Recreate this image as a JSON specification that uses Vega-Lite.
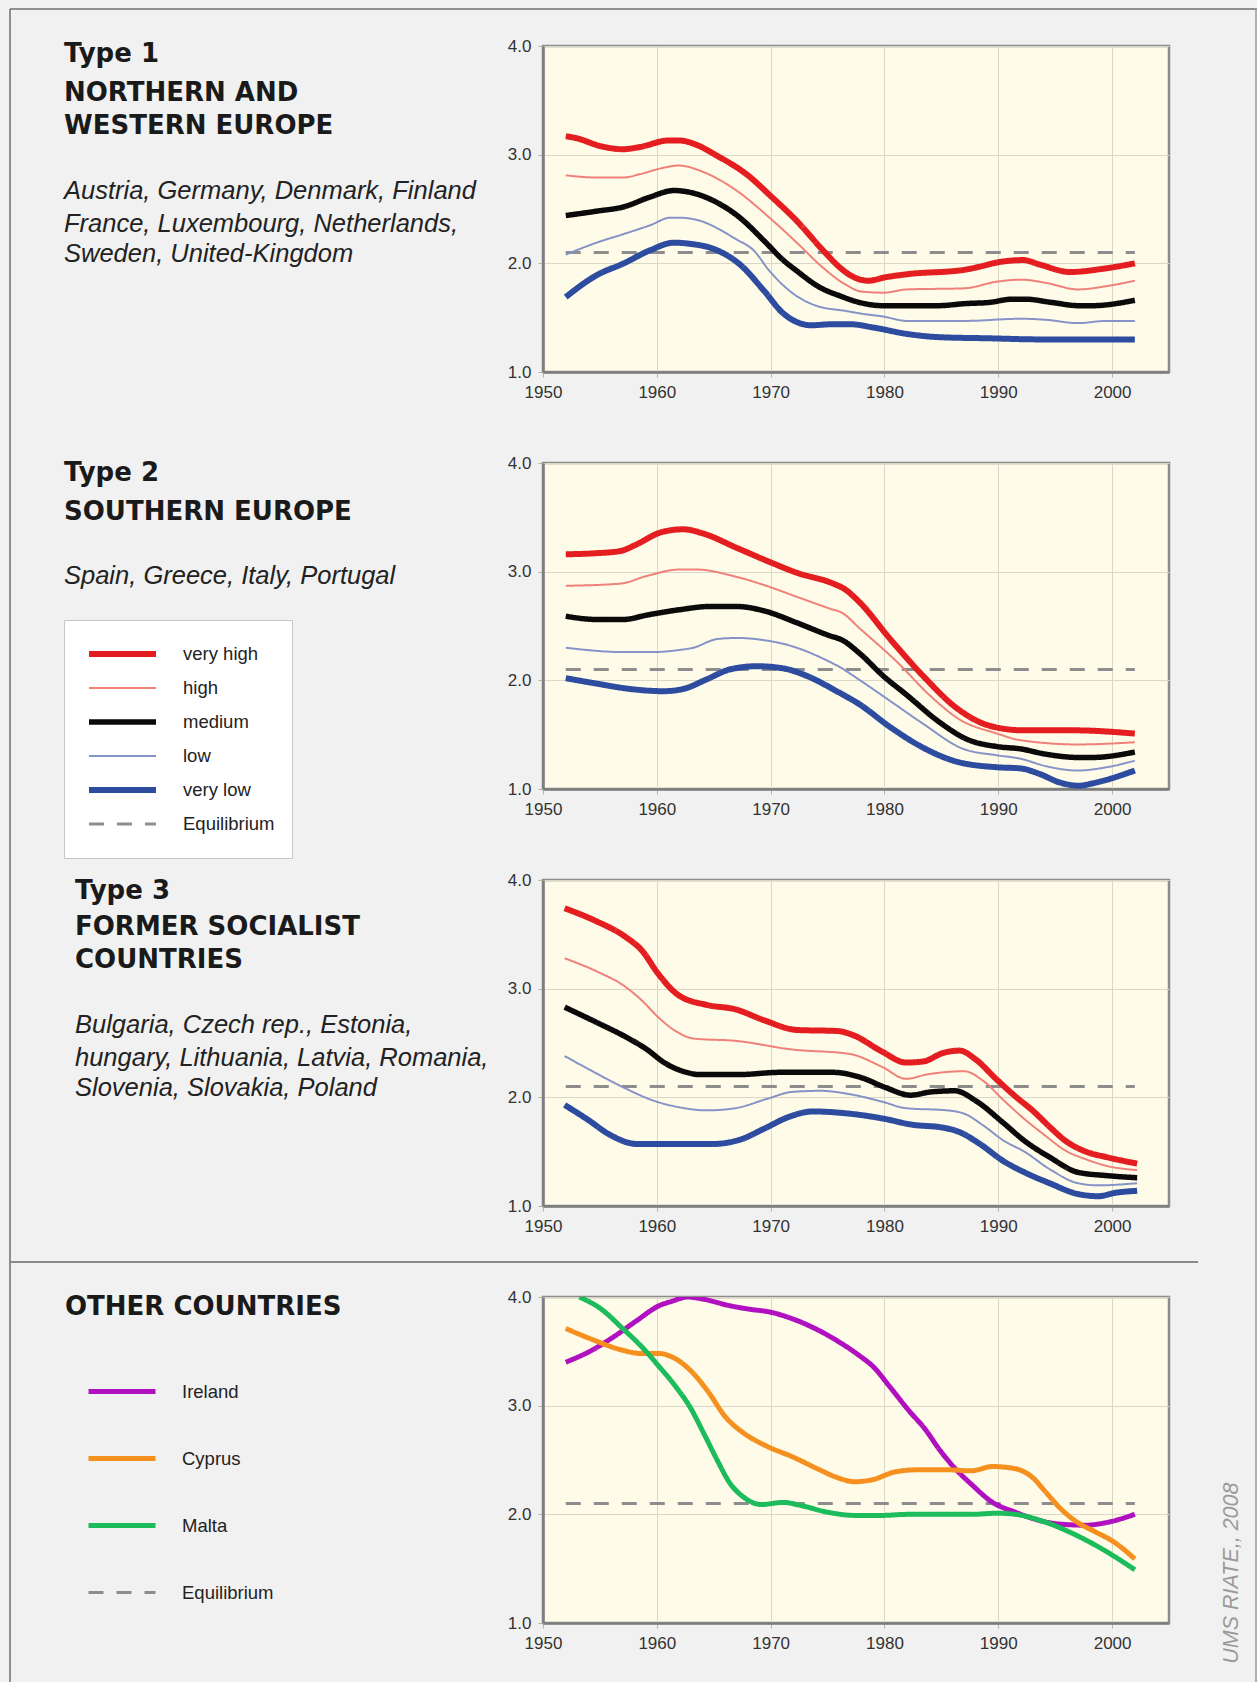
{
  "$schema": "https://vega.github.io/schema/vega-lite/v6.json",
  "background": "#f1f1f1",
  "padding": {"top": 8, "left": 0, "right": 0, "bottom": 0},
  "columns": 2,
  "bounds": "flush",
  "spacing": {"row": 91, "column": 43},
  "resolve": {
    "scale": {"color": "independent", "strokeWidth": "independent", "strokeDash": "independent"},
    "legend": {"color": "independent", "strokeWidth": "independent", "strokeDash": "independent"}
  },
  "datasets": {
    "labels": [
      {"panel": "Type 1", "kind": "title", "line": -0.19, "text": "Type 1"},
      {"panel": "Type 1", "kind": "title", "line": 1, "text": "NORTHERN AND"},
      {"panel": "Type 1", "kind": "title", "line": 2, "text": "WESTERN EUROPE"},
      {"panel": "Type 1", "kind": "countries", "line": 4, "text": "Austria, Germany, Denmark, Finland"},
      {"panel": "Type 1", "kind": "countries", "line": 5, "text": "France, Luxembourg, Netherlands,"},
      {"panel": "Type 1", "kind": "countries", "line": 5.93, "text": "Sweden, United-Kingdom"},
      {"panel": "Type 2", "kind": "title", "line": -0.15, "text": "Type 2"},
      {"panel": "Type 2", "kind": "title", "line": 1.04, "text": "SOUTHERN EUROPE"},
      {"panel": "Type 2", "kind": "countries", "line": 3.01, "text": "Spain, Greece, Italy, Portugal"},
      {"panel": "Type 3", "kind": "title", "line": -0.11, "text": "Type 3"},
      {"panel": "Type 3", "kind": "title", "line": 1, "text": "FORMER SOCIALIST"},
      {"panel": "Type 3", "kind": "title", "line": 2, "text": "COUNTRIES"},
      {"panel": "Type 3", "kind": "countries", "line": 4, "text": "Bulgaria, Czech rep., Estonia,"},
      {"panel": "Type 3", "kind": "countries", "line": 5, "text": "hungary, Lithuania, Latvia, Romania,"},
      {"panel": "Type 3", "kind": "countries", "line": 5.92, "text": "Slovenia, Slovakia, Poland"},
      {"panel": "Other", "kind": "title", "line": -0.14, "text": "OTHER COUNTRIES"}
    ],
    "fert": [
      {"panel":"Type 1","series":"Equilibrium","year":1952,"value":2.1},{"panel":"Type 1","series":"Equilibrium","year":2002,"value":2.1},
      {"panel":"Type 1","series":"very high","year":1952,"value":3.17},{"panel":"Type 1","series":"very high","year":1953,"value":3.15},{"panel":"Type 1","series":"very high","year":1955,"value":3.08},{"panel":"Type 1","series":"very high","year":1957,"value":3.05},{"panel":"Type 1","series":"very high","year":1958.5,"value":3.07},{"panel":"Type 1","series":"very high","year":1961,"value":3.13},{"panel":"Type 1","series":"very high","year":1962,"value":3.13},{"panel":"Type 1","series":"very high","year":1963.5,"value":3.09},{"panel":"Type 1","series":"very high","year":1965.3,"value":2.99},{"panel":"Type 1","series":"very high","year":1968,"value":2.81},{"panel":"Type 1","series":"very high","year":1970,"value":2.62},{"panel":"Type 1","series":"very high","year":1972.3,"value":2.39},{"panel":"Type 1","series":"very high","year":1974.6,"value":2.12},{"panel":"Type 1","series":"very high","year":1976.1,"value":1.96},{"panel":"Type 1","series":"very high","year":1977,"value":1.89},{"panel":"Type 1","series":"very high","year":1978.6,"value":1.84},{"panel":"Type 1","series":"very high","year":1980,"value":1.87},{"panel":"Type 1","series":"very high","year":1982,"value":1.9},{"panel":"Type 1","series":"very high","year":1987,"value":1.94},{"panel":"Type 1","series":"very high","year":1988.4,"value":1.97},{"panel":"Type 1","series":"very high","year":1990,"value":2.01},{"panel":"Type 1","series":"very high","year":1992.2,"value":2.03},{"panel":"Type 1","series":"very high","year":1993.6,"value":1.99},{"panel":"Type 1","series":"very high","year":1996.3,"value":1.92},{"panel":"Type 1","series":"very high","year":1999.2,"value":1.95},{"panel":"Type 1","series":"very high","year":2002,"value":2.0},
      {"panel":"Type 1","series":"high","year":1952,"value":2.81},{"panel":"Type 1","series":"high","year":1954.7,"value":2.79},{"panel":"Type 1","series":"high","year":1957.1,"value":2.79},{"panel":"Type 1","series":"high","year":1958.5,"value":2.82},{"panel":"Type 1","series":"high","year":1960.6,"value":2.88},{"panel":"Type 1","series":"high","year":1961.9,"value":2.9},{"panel":"Type 1","series":"high","year":1964.1,"value":2.84},{"panel":"Type 1","series":"high","year":1967,"value":2.67},{"panel":"Type 1","series":"high","year":1969.9,"value":2.42},{"panel":"Type 1","series":"high","year":1972.3,"value":2.19},{"panel":"Type 1","series":"high","year":1974.6,"value":1.96},{"panel":"Type 1","series":"high","year":1976.5,"value":1.81},{"panel":"Type 1","series":"high","year":1978,"value":1.74},{"panel":"Type 1","series":"high","year":1979.9,"value":1.73},{"panel":"Type 1","series":"high","year":1982,"value":1.76},{"panel":"Type 1","series":"high","year":1987,"value":1.77},{"panel":"Type 1","series":"high","year":1989.8,"value":1.83},{"panel":"Type 1","series":"high","year":1992,"value":1.85},{"panel":"Type 1","series":"high","year":1994.2,"value":1.82},{"panel":"Type 1","series":"high","year":1997,"value":1.76},{"panel":"Type 1","series":"high","year":1999.5,"value":1.79},{"panel":"Type 1","series":"high","year":2002,"value":1.84},
      {"panel":"Type 1","series":"medium","year":1952,"value":2.44},{"panel":"Type 1","series":"medium","year":1954.7,"value":2.48},{"panel":"Type 1","series":"medium","year":1957.1,"value":2.52},{"panel":"Type 1","series":"medium","year":1959.4,"value":2.61},{"panel":"Type 1","series":"medium","year":1961.5,"value":2.67},{"panel":"Type 1","series":"medium","year":1962.6,"value":2.66},{"panel":"Type 1","series":"medium","year":1964.7,"value":2.59},{"panel":"Type 1","series":"medium","year":1967.3,"value":2.42},{"panel":"Type 1","series":"medium","year":1969.4,"value":2.21},{"panel":"Type 1","series":"medium","year":1971.1,"value":2.03},{"panel":"Type 1","series":"medium","year":1972.3,"value":1.93},{"panel":"Type 1","series":"medium","year":1974.3,"value":1.78},{"panel":"Type 1","series":"medium","year":1976.1,"value":1.7},{"panel":"Type 1","series":"medium","year":1977.8,"value":1.64},{"panel":"Type 1","series":"medium","year":1979.9,"value":1.61},{"panel":"Type 1","series":"medium","year":1982,"value":1.61},{"panel":"Type 1","series":"medium","year":1984.6,"value":1.61},{"panel":"Type 1","series":"medium","year":1987.2,"value":1.63},{"panel":"Type 1","series":"medium","year":1989.2,"value":1.64},{"panel":"Type 1","series":"medium","year":1991.2,"value":1.67},{"panel":"Type 1","series":"medium","year":1992.4,"value":1.67},{"panel":"Type 1","series":"medium","year":1994.7,"value":1.64},{"panel":"Type 1","series":"medium","year":1997.1,"value":1.61},{"panel":"Type 1","series":"medium","year":1998.2,"value":1.61},{"panel":"Type 1","series":"medium","year":2002,"value":1.66},
      {"panel":"Type 1","series":"low","year":1952,"value":2.08},{"panel":"Type 1","series":"low","year":1954.7,"value":2.19},{"panel":"Type 1","series":"low","year":1957.1,"value":2.27},{"panel":"Type 1","series":"low","year":1959.4,"value":2.35},{"panel":"Type 1","series":"low","year":1961.2,"value":2.42},{"panel":"Type 1","series":"low","year":1962,"value":2.42},{"panel":"Type 1","series":"low","year":1963.5,"value":2.4},{"panel":"Type 1","series":"low","year":1967,"value":2.22},{"panel":"Type 1","series":"low","year":1968.5,"value":2.12},{"panel":"Type 1","series":"low","year":1969.9,"value":1.93},{"panel":"Type 1","series":"low","year":1972,"value":1.72},{"panel":"Type 1","series":"low","year":1974,"value":1.61},{"panel":"Type 1","series":"low","year":1976.7,"value":1.56},{"panel":"Type 1","series":"low","year":1977.8,"value":1.54},{"panel":"Type 1","series":"low","year":1979.9,"value":1.51},{"panel":"Type 1","series":"low","year":1982,"value":1.47},{"panel":"Type 1","series":"low","year":1987,"value":1.47},{"panel":"Type 1","series":"low","year":1992,"value":1.49},{"panel":"Type 1","series":"low","year":1994.2,"value":1.48},{"panel":"Type 1","series":"low","year":1997,"value":1.45},{"panel":"Type 1","series":"low","year":1999.5,"value":1.47},{"panel":"Type 1","series":"low","year":2002,"value":1.47},
      {"panel":"Type 1","series":"very low","year":1952,"value":1.69},{"panel":"Type 1","series":"very low","year":1954.7,"value":1.89},{"panel":"Type 1","series":"very low","year":1957.1,"value":2.0},{"panel":"Type 1","series":"very low","year":1959.4,"value":2.12},{"panel":"Type 1","series":"very low","year":1961.5,"value":2.19},{"panel":"Type 1","series":"very low","year":1962.9,"value":2.18},{"panel":"Type 1","series":"very low","year":1965.3,"value":2.12},{"panel":"Type 1","series":"very low","year":1967.3,"value":1.99},{"panel":"Type 1","series":"very low","year":1969.4,"value":1.75},{"panel":"Type 1","series":"very low","year":1971.1,"value":1.54},{"panel":"Type 1","series":"very low","year":1972.3,"value":1.46},{"panel":"Type 1","series":"very low","year":1973.5,"value":1.43},{"panel":"Type 1","series":"very low","year":1975.5,"value":1.44},{"panel":"Type 1","series":"very low","year":1977,"value":1.44},{"panel":"Type 1","series":"very low","year":1979,"value":1.41},{"panel":"Type 1","series":"very low","year":1982,"value":1.35},{"panel":"Type 1","series":"very low","year":1984.9,"value":1.32},{"panel":"Type 1","series":"very low","year":1989.2,"value":1.31},{"panel":"Type 1","series":"very low","year":1993.6,"value":1.3},{"panel":"Type 1","series":"very low","year":2002,"value":1.3},

      {"panel":"Type 2","series":"Equilibrium","year":1952,"value":2.1},{"panel":"Type 2","series":"Equilibrium","year":2002,"value":2.1},
      {"panel":"Type 2","series":"very high","year":1952,"value":3.16},{"panel":"Type 2","series":"very high","year":1954.7,"value":3.17},{"panel":"Type 2","series":"very high","year":1956.8,"value":3.19},{"panel":"Type 2","series":"very high","year":1958.2,"value":3.25},{"panel":"Type 2","series":"very high","year":1960.3,"value":3.36},{"panel":"Type 2","series":"very high","year":1962.3,"value":3.39},{"panel":"Type 2","series":"very high","year":1964.1,"value":3.35},{"panel":"Type 2","series":"very high","year":1967,"value":3.22},{"panel":"Type 2","series":"very high","year":1969.9,"value":3.09},{"panel":"Type 2","series":"very high","year":1972.3,"value":2.99},{"panel":"Type 2","series":"very high","year":1975.5,"value":2.89},{"panel":"Type 2","series":"very high","year":1976.5,"value":2.84},{"panel":"Type 2","series":"very high","year":1977.8,"value":2.72},{"panel":"Type 2","series":"very high","year":1980.5,"value":2.38},{"panel":"Type 2","series":"very high","year":1983.4,"value":2.04},{"panel":"Type 2","series":"very high","year":1986.4,"value":1.74},{"panel":"Type 2","series":"very high","year":1989.3,"value":1.58},{"panel":"Type 2","series":"very high","year":1992.2,"value":1.54},{"panel":"Type 2","series":"very high","year":1996.6,"value":1.54},{"panel":"Type 2","series":"very high","year":2002,"value":1.51},
      {"panel":"Type 2","series":"high","year":1952,"value":2.87},{"panel":"Type 2","series":"high","year":1956.8,"value":2.89},{"panel":"Type 2","series":"high","year":1959.1,"value":2.96},{"panel":"Type 2","series":"high","year":1962,"value":3.02},{"panel":"Type 2","series":"high","year":1963.5,"value":3.02},{"panel":"Type 2","series":"high","year":1966.7,"value":2.96},{"panel":"Type 2","series":"high","year":1969.9,"value":2.86},{"panel":"Type 2","series":"high","year":1972,"value":2.78},{"panel":"Type 2","series":"high","year":1975.2,"value":2.66},{"panel":"Type 2","series":"high","year":1976.3,"value":2.62},{"panel":"Type 2","series":"high","year":1977.8,"value":2.48},{"panel":"Type 2","series":"high","year":1981.1,"value":2.17},{"panel":"Type 2","series":"high","year":1984,"value":1.86},{"panel":"Type 2","series":"high","year":1986.6,"value":1.64},{"panel":"Type 2","series":"high","year":1989.9,"value":1.51},{"panel":"Type 2","series":"high","year":1991.9,"value":1.45},{"panel":"Type 2","series":"high","year":1997,"value":1.41},{"panel":"Type 2","series":"high","year":2002,"value":1.43},
      {"panel":"Type 2","series":"medium","year":1952,"value":2.59},{"panel":"Type 2","series":"medium","year":1954.7,"value":2.56},{"panel":"Type 2","series":"medium","year":1957.1,"value":2.56},{"panel":"Type 2","series":"medium","year":1959.1,"value":2.6},{"panel":"Type 2","series":"medium","year":1962,"value":2.65},{"panel":"Type 2","series":"medium","year":1964.7,"value":2.68},{"panel":"Type 2","series":"medium","year":1967,"value":2.68},{"panel":"Type 2","series":"medium","year":1969.4,"value":2.64},{"panel":"Type 2","series":"medium","year":1972.3,"value":2.53},{"panel":"Type 2","series":"medium","year":1975.2,"value":2.41},{"panel":"Type 2","series":"medium","year":1976.3,"value":2.37},{"panel":"Type 2","series":"medium","year":1977.8,"value":2.25},{"panel":"Type 2","series":"medium","year":1979.9,"value":2.04},{"panel":"Type 2","series":"medium","year":1981.9,"value":1.87},{"panel":"Type 2","series":"medium","year":1984.9,"value":1.61},{"panel":"Type 2","series":"medium","year":1987.2,"value":1.46},{"panel":"Type 2","series":"medium","year":1989.9,"value":1.39},{"panel":"Type 2","series":"medium","year":1991.9,"value":1.37},{"panel":"Type 2","series":"medium","year":1994.2,"value":1.32},{"panel":"Type 2","series":"medium","year":1997.1,"value":1.29},{"panel":"Type 2","series":"medium","year":1998.2,"value":1.29},{"panel":"Type 2","series":"medium","year":2002,"value":1.34},
      {"panel":"Type 2","series":"low","year":1952,"value":2.3},{"panel":"Type 2","series":"low","year":1957.1,"value":2.26},{"panel":"Type 2","series":"low","year":1959.7,"value":2.26},{"panel":"Type 2","series":"low","year":1962,"value":2.28},{"panel":"Type 2","series":"low","year":1963.2,"value":2.3},{"panel":"Type 2","series":"low","year":1965.3,"value":2.38},{"panel":"Type 2","series":"low","year":1967,"value":2.39},{"panel":"Type 2","series":"low","year":1969.4,"value":2.37},{"panel":"Type 2","series":"low","year":1972,"value":2.31},{"panel":"Type 2","series":"low","year":1974.6,"value":2.2},{"panel":"Type 2","series":"low","year":1976.1,"value":2.12},{"panel":"Type 2","series":"low","year":1978,"value":1.99},{"panel":"Type 2","series":"low","year":1980.5,"value":1.81},{"panel":"Type 2","series":"low","year":1983.4,"value":1.6},{"panel":"Type 2","series":"low","year":1986.9,"value":1.37},{"panel":"Type 2","series":"low","year":1989.9,"value":1.31},{"panel":"Type 2","series":"low","year":1991.9,"value":1.28},{"panel":"Type 2","series":"low","year":1994.2,"value":1.21},{"panel":"Type 2","series":"low","year":1997,"value":1.17},{"panel":"Type 2","series":"low","year":1999.5,"value":1.2},{"panel":"Type 2","series":"low","year":2002,"value":1.26},
      {"panel":"Type 2","series":"very low","year":1952,"value":2.02},{"panel":"Type 2","series":"very low","year":1954.7,"value":1.97},{"panel":"Type 2","series":"very low","year":1957.7,"value":1.92},{"panel":"Type 2","series":"very low","year":1960.6,"value":1.9},{"panel":"Type 2","series":"very low","year":1962.3,"value":1.92},{"panel":"Type 2","series":"very low","year":1964.4,"value":2.01},{"panel":"Type 2","series":"very low","year":1966.4,"value":2.1},{"panel":"Type 2","series":"very low","year":1968.8,"value":2.13},{"panel":"Type 2","series":"very low","year":1971.1,"value":2.11},{"panel":"Type 2","series":"very low","year":1973.2,"value":2.04},{"panel":"Type 2","series":"very low","year":1975.8,"value":1.9},{"panel":"Type 2","series":"very low","year":1977.8,"value":1.78},{"panel":"Type 2","series":"very low","year":1980.5,"value":1.57},{"panel":"Type 2","series":"very low","year":1983.4,"value":1.38},{"panel":"Type 2","series":"very low","year":1986.4,"value":1.25},{"panel":"Type 2","series":"very low","year":1989.9,"value":1.2},{"panel":"Type 2","series":"very low","year":1991.9,"value":1.19},{"panel":"Type 2","series":"very low","year":1993.6,"value":1.14},{"panel":"Type 2","series":"very low","year":1995.4,"value":1.06},{"panel":"Type 2","series":"very low","year":1997.1,"value":1.03},{"panel":"Type 2","series":"very low","year":1998.2,"value":1.05},{"panel":"Type 2","series":"very low","year":2002,"value":1.17},

      {"panel":"Type 3","series":"Equilibrium","year":1952,"value":2.1},{"panel":"Type 3","series":"Equilibrium","year":2002,"value":2.1},
      {"panel":"Type 3","series":"very high","year":1951.9,"value":3.74},{"panel":"Type 3","series":"very high","year":1954.7,"value":3.62},{"panel":"Type 3","series":"very high","year":1957.2,"value":3.48},{"panel":"Type 3","series":"very high","year":1958.7,"value":3.35},{"panel":"Type 3","series":"very high","year":1960.1,"value":3.14},{"panel":"Type 3","series":"very high","year":1961.9,"value":2.94},{"panel":"Type 3","series":"very high","year":1964.4,"value":2.85},{"panel":"Type 3","series":"very high","year":1966.9,"value":2.81},{"panel":"Type 3","series":"very high","year":1969.4,"value":2.71},{"panel":"Type 3","series":"very high","year":1972.3,"value":2.62},{"panel":"Type 3","series":"very high","year":1975.9,"value":2.61},{"panel":"Type 3","series":"very high","year":1977.3,"value":2.57},{"panel":"Type 3","series":"very high","year":1979.8,"value":2.42},{"panel":"Type 3","series":"very high","year":1981.9,"value":2.32},{"panel":"Type 3","series":"very high","year":1983.4,"value":2.33},{"panel":"Type 3","series":"very high","year":1985.2,"value":2.41},{"panel":"Type 3","series":"very high","year":1986.6,"value":2.43},{"panel":"Type 3","series":"very high","year":1988,"value":2.35},{"panel":"Type 3","series":"very high","year":1989.8,"value":2.17},{"panel":"Type 3","series":"very high","year":1991.6,"value":2.0},{"panel":"Type 3","series":"very high","year":1993,"value":1.88},{"panel":"Type 3","series":"very high","year":1994.5,"value":1.73},{"panel":"Type 3","series":"very high","year":1995.9,"value":1.6},{"panel":"Type 3","series":"very high","year":1997.7,"value":1.5},{"panel":"Type 3","series":"very high","year":1999.5,"value":1.45},{"panel":"Type 3","series":"very high","year":2002.2,"value":1.39},
      {"panel":"Type 3","series":"high","year":1951.9,"value":3.28},{"panel":"Type 3","series":"high","year":1954.7,"value":3.16},{"panel":"Type 3","series":"high","year":1957.2,"value":3.02},{"panel":"Type 3","series":"high","year":1958.7,"value":2.89},{"panel":"Type 3","series":"high","year":1960.1,"value":2.74},{"panel":"Type 3","series":"high","year":1961.5,"value":2.62},{"panel":"Type 3","series":"high","year":1963.3,"value":2.54},{"panel":"Type 3","series":"high","year":1966.9,"value":2.52},{"panel":"Type 3","series":"high","year":1971.9,"value":2.44},{"panel":"Type 3","series":"high","year":1976.9,"value":2.4},{"panel":"Type 3","series":"high","year":1979.8,"value":2.28},{"panel":"Type 3","series":"high","year":1981.9,"value":2.17},{"panel":"Type 3","series":"high","year":1983.7,"value":2.21},{"panel":"Type 3","series":"high","year":1987,"value":2.24},{"panel":"Type 3","series":"high","year":1988.7,"value":2.15},{"panel":"Type 3","series":"high","year":1990.5,"value":1.97},{"panel":"Type 3","series":"high","year":1992.3,"value":1.8},{"panel":"Type 3","series":"high","year":1994.1,"value":1.65},{"panel":"Type 3","series":"high","year":1995.9,"value":1.51},{"panel":"Type 3","series":"high","year":1997.7,"value":1.43},{"panel":"Type 3","series":"high","year":1999.5,"value":1.37},{"panel":"Type 3","series":"high","year":2002.2,"value":1.33},
      {"panel":"Type 3","series":"medium","year":1951.9,"value":2.83},{"panel":"Type 3","series":"medium","year":1954.7,"value":2.69},{"panel":"Type 3","series":"medium","year":1957.2,"value":2.56},{"panel":"Type 3","series":"medium","year":1959,"value":2.45},{"panel":"Type 3","series":"medium","year":1960.8,"value":2.31},{"panel":"Type 3","series":"medium","year":1962.6,"value":2.23},{"panel":"Type 3","series":"medium","year":1963.7,"value":2.21},{"panel":"Type 3","series":"medium","year":1967.3,"value":2.21},{"panel":"Type 3","series":"medium","year":1970.8,"value":2.23},{"panel":"Type 3","series":"medium","year":1975.5,"value":2.23},{"panel":"Type 3","series":"medium","year":1978,"value":2.18},{"panel":"Type 3","series":"medium","year":1980.1,"value":2.09},{"panel":"Type 3","series":"medium","year":1982.3,"value":2.02},{"panel":"Type 3","series":"medium","year":1984.1,"value":2.05},{"panel":"Type 3","series":"medium","year":1986.2,"value":2.06},{"panel":"Type 3","series":"medium","year":1988,"value":1.97},{"panel":"Type 3","series":"medium","year":1990.5,"value":1.76},{"panel":"Type 3","series":"medium","year":1992.3,"value":1.6},{"panel":"Type 3","series":"medium","year":1994.5,"value":1.45},{"panel":"Type 3","series":"medium","year":1997,"value":1.31},{"panel":"Type 3","series":"medium","year":1999.5,"value":1.28},{"panel":"Type 3","series":"medium","year":2002.2,"value":1.26},
      {"panel":"Type 3","series":"low","year":1951.9,"value":2.38},{"panel":"Type 3","series":"low","year":1954.7,"value":2.22},{"panel":"Type 3","series":"low","year":1956.9,"value":2.1},{"panel":"Type 3","series":"low","year":1959.7,"value":1.97},{"panel":"Type 3","series":"low","year":1961.9,"value":1.91},{"panel":"Type 3","series":"low","year":1964.4,"value":1.88},{"panel":"Type 3","series":"low","year":1966.9,"value":1.9},{"panel":"Type 3","series":"low","year":1969.8,"value":1.99},{"panel":"Type 3","series":"low","year":1971.9,"value":2.05},{"panel":"Type 3","series":"low","year":1974.4,"value":2.06},{"panel":"Type 3","series":"low","year":1976.9,"value":2.03},{"panel":"Type 3","series":"low","year":1979.8,"value":1.96},{"panel":"Type 3","series":"low","year":1981.9,"value":1.9},{"panel":"Type 3","series":"low","year":1985.5,"value":1.88},{"panel":"Type 3","series":"low","year":1987,"value":1.85},{"panel":"Type 3","series":"low","year":1988.7,"value":1.74},{"panel":"Type 3","series":"low","year":1990.5,"value":1.6},{"panel":"Type 3","series":"low","year":1992.3,"value":1.5},{"panel":"Type 3","series":"low","year":1994.5,"value":1.34},{"panel":"Type 3","series":"low","year":1997,"value":1.21},{"panel":"Type 3","series":"low","year":1998.8,"value":1.19},{"panel":"Type 3","series":"low","year":2002.2,"value":1.21},
      {"panel":"Type 3","series":"very low","year":1951.9,"value":1.93},{"panel":"Type 3","series":"very low","year":1954,"value":1.79},{"panel":"Type 3","series":"very low","year":1955.8,"value":1.66},{"panel":"Type 3","series":"very low","year":1958.3,"value":1.57},{"panel":"Type 3","series":"very low","year":1961.2,"value":1.57},{"panel":"Type 3","series":"very low","year":1964.8,"value":1.57},{"panel":"Type 3","series":"very low","year":1967.3,"value":1.61},{"panel":"Type 3","series":"very low","year":1969.4,"value":1.71},{"panel":"Type 3","series":"very low","year":1971.6,"value":1.82},{"panel":"Type 3","series":"very low","year":1973.7,"value":1.87},{"panel":"Type 3","series":"very low","year":1976.9,"value":1.85},{"panel":"Type 3","series":"very low","year":1980.1,"value":1.8},{"panel":"Type 3","series":"very low","year":1982.3,"value":1.75},{"panel":"Type 3","series":"very low","year":1985.2,"value":1.72},{"panel":"Type 3","series":"very low","year":1986.6,"value":1.68},{"panel":"Type 3","series":"very low","year":1988.4,"value":1.57},{"panel":"Type 3","series":"very low","year":1990.5,"value":1.41},{"panel":"Type 3","series":"very low","year":1992.3,"value":1.31},{"panel":"Type 3","series":"very low","year":1994.5,"value":1.21},{"panel":"Type 3","series":"very low","year":1997,"value":1.11},{"panel":"Type 3","series":"very low","year":1998.8,"value":1.09},{"panel":"Type 3","series":"very low","year":2000.2,"value":1.12},{"panel":"Type 3","series":"very low","year":2002.2,"value":1.14},

      {"panel":"Other","series":"Equilibrium","year":1952,"value":2.1},{"panel":"Other","series":"Equilibrium","year":2002,"value":2.1},
      {"panel":"Other","series":"Ireland","year":1952,"value":3.4},{"panel":"Other","series":"Ireland","year":1954.3,"value":3.51},{"panel":"Other","series":"Ireland","year":1956.3,"value":3.64},{"panel":"Other","series":"Ireland","year":1958.2,"value":3.78},{"panel":"Other","series":"Ireland","year":1960.2,"value":3.92},{"panel":"Other","series":"Ireland","year":1961.3,"value":3.96},{"panel":"Other","series":"Ireland","year":1962.7,"value":4.0},{"panel":"Other","series":"Ireland","year":1964.1,"value":3.98},{"panel":"Other","series":"Ireland","year":1966.4,"value":3.92},{"panel":"Other","series":"Ireland","year":1968,"value":3.89},{"panel":"Other","series":"Ireland","year":1970,"value":3.86},{"panel":"Other","series":"Ireland","year":1971.9,"value":3.8},{"panel":"Other","series":"Ireland","year":1973.9,"value":3.71},{"panel":"Other","series":"Ireland","year":1975.8,"value":3.6},{"panel":"Other","series":"Ireland","year":1977.8,"value":3.46},{"panel":"Other","series":"Ireland","year":1979,"value":3.36},{"panel":"Other","series":"Ireland","year":1980.5,"value":3.17},{"panel":"Other","series":"Ireland","year":1982.1,"value":2.96},{"panel":"Other","series":"Ireland","year":1983.6,"value":2.78},{"panel":"Other","series":"Ireland","year":1984.8,"value":2.6},{"panel":"Other","series":"Ireland","year":1986.4,"value":2.4},{"panel":"Other","series":"Ireland","year":1987.6,"value":2.28},{"panel":"Other","series":"Ireland","year":1989.5,"value":2.11},{"panel":"Other","series":"Ireland","year":1991.5,"value":2.02},{"panel":"Other","series":"Ireland","year":1993.4,"value":1.95},{"panel":"Other","series":"Ireland","year":1995.4,"value":1.91},{"panel":"Other","series":"Ireland","year":1997.7,"value":1.9},{"panel":"Other","series":"Ireland","year":1999.3,"value":1.92},{"panel":"Other","series":"Ireland","year":2002,"value":2.0},
      {"panel":"Other","series":"Cyprus","year":1952,"value":3.71},{"panel":"Other","series":"Cyprus","year":1954.3,"value":3.61},{"panel":"Other","series":"Cyprus","year":1957,"value":3.51},{"panel":"Other","series":"Cyprus","year":1958.6,"value":3.48},{"panel":"Other","series":"Cyprus","year":1960.2,"value":3.48},{"panel":"Other","series":"Cyprus","year":1961.3,"value":3.45},{"panel":"Other","series":"Cyprus","year":1962.9,"value":3.33},{"panel":"Other","series":"Cyprus","year":1964.5,"value":3.13},{"panel":"Other","series":"Cyprus","year":1966,"value":2.9},{"panel":"Other","series":"Cyprus","year":1967.6,"value":2.75},{"panel":"Other","series":"Cyprus","year":1969.6,"value":2.63},{"panel":"Other","series":"Cyprus","year":1971.9,"value":2.53},{"panel":"Other","series":"Cyprus","year":1974.3,"value":2.41},{"panel":"Other","series":"Cyprus","year":1975.8,"value":2.34},{"panel":"Other","series":"Cyprus","year":1977.4,"value":2.3},{"panel":"Other","series":"Cyprus","year":1979,"value":2.32},{"panel":"Other","series":"Cyprus","year":1980.9,"value":2.39},{"panel":"Other","series":"Cyprus","year":1982.9,"value":2.41},{"panel":"Other","series":"Cyprus","year":1985.6,"value":2.41},{"panel":"Other","series":"Cyprus","year":1987.6,"value":2.4},{"panel":"Other","series":"Cyprus","year":1989.5,"value":2.44},{"panel":"Other","series":"Cyprus","year":1991.5,"value":2.42},{"panel":"Other","series":"Cyprus","year":1993,"value":2.34},{"panel":"Other","series":"Cyprus","year":1994.2,"value":2.2},{"panel":"Other","series":"Cyprus","year":1995.4,"value":2.06},{"panel":"Other","series":"Cyprus","year":1996.9,"value":1.93},{"panel":"Other","series":"Cyprus","year":1998.5,"value":1.84},{"panel":"Other","series":"Cyprus","year":2000.1,"value":1.75},{"panel":"Other","series":"Cyprus","year":2002,"value":1.59},
      {"panel":"Other","series":"Malta","year":1953.2,"value":4.0},{"panel":"Other","series":"Malta","year":1955.1,"value":3.89},{"panel":"Other","series":"Malta","year":1957,"value":3.71},{"panel":"Other","series":"Malta","year":1958.6,"value":3.55},{"panel":"Other","series":"Malta","year":1960.2,"value":3.36},{"panel":"Other","series":"Malta","year":1961.7,"value":3.17},{"panel":"Other","series":"Malta","year":1962.9,"value":2.99},{"panel":"Other","series":"Malta","year":1964.1,"value":2.75},{"panel":"Other","series":"Malta","year":1965.3,"value":2.5},{"panel":"Other","series":"Malta","year":1966.4,"value":2.29},{"panel":"Other","series":"Malta","year":1967.6,"value":2.16},{"panel":"Other","series":"Malta","year":1969.2,"value":2.09},{"panel":"Other","series":"Malta","year":1971.1,"value":2.11},{"panel":"Other","series":"Malta","year":1972.7,"value":2.08},{"panel":"Other","series":"Malta","year":1975,"value":2.02},{"panel":"Other","series":"Malta","year":1977.4,"value":1.99},{"panel":"Other","series":"Malta","year":1979.7,"value":1.99},{"panel":"Other","series":"Malta","year":1982.1,"value":2.0},{"panel":"Other","series":"Malta","year":1987.6,"value":2.0},{"panel":"Other","series":"Malta","year":1989.9,"value":2.01},{"panel":"Other","series":"Malta","year":1991.5,"value":2.0},{"panel":"Other","series":"Malta","year":1993.8,"value":1.94},{"panel":"Other","series":"Malta","year":1996.2,"value":1.84},{"panel":"Other","series":"Malta","year":1999.3,"value":1.67},{"panel":"Other","series":"Malta","year":2002,"value":1.49}
    ]
  },
  "concat": [
    {
      "width": 500, "height": 326,
      "view": {"fill": "#f1f1f1", "stroke": null},
      "data": {"name": "labels"},
      "transform": [{"filter": "datum.panel === 'Type 1'"}],
      "layer": [
        {"transform": [{"filter": "datum.kind === 'title'"}],
         "mark": {"type": "text", "align": "left", "baseline": "middle", "font": "DejaVu Sans", "fontWeight": "bold", "fontSize": 26, "color": "#1a1a1a"},
         "encoding": {"x": {"datum": 64, "scale": {"domain": [0, 500], "nice": false, "zero": false}, "axis": null}, "y": {"field": "line", "type": "quantitative", "scale": {"domain": [-0.45, 9.55], "reverse": true, "nice": false, "zero": false}, "axis": null}, "text": {"field": "text"}}},
        {"transform": [{"filter": "datum.kind === 'countries'"}],
         "mark": {"type": "text", "align": "left", "baseline": "middle", "font": "Liberation Sans", "fontStyle": "italic", "fontSize": 25.5, "color": "#222222"},
         "encoding": {"x": {"datum": 64, "scale": {"domain": [0, 500], "nice": false, "zero": false}, "axis": null}, "y": {"field": "line", "type": "quantitative", "scale": {"domain": [-0.45, 9.55], "reverse": true, "nice": false, "zero": false}, "axis": null}, "text": {"field": "text"}}}
      ]
    },
    {
      "width": 626, "height": 326,
      "data": {"name": "fert"},
      "transform": [{"filter": "datum.panel === 'Type 1'"}],
      "mark": {"type": "line", "interpolate": "monotone", "clip": true, "strokeJoin": "round"},
      "encoding": {
        "x": {"field": "year", "type": "quantitative", "scale": {"domain": [1950, 2005], "nice": false, "zero": false}, "axis": {"values": [1950, 1960, 1970, 1980, 1990, 2000], "format": "d", "title": null}},
        "y": {"field": "value", "type": "quantitative", "scale": {"domain": [1, 4], "nice": false, "zero": false}, "axis": {"values": [1, 2, 3, 4], "format": ".1f", "title": null}},
        "color": {"field": "series", "type": "nominal", "scale": {"domain": ["very high", "high", "medium", "low", "very low", "Equilibrium"], "range": ["#e41e20", "#f0807a", "#0a0a0a", "#8593c6", "#2d4b9f", "#8d8d8d"]}, "legend": null},
        "strokeWidth": {"field": "series", "type": "nominal", "scale": {"type": "ordinal", "domain": ["very high", "high", "medium", "low", "very low", "Equilibrium"], "range": [6, 2, 5.5, 2, 6, 3]}, "legend": null},
        "strokeDash": {"field": "series", "type": "nominal", "scale": {"domain": ["very high", "high", "medium", "low", "very low", "Equilibrium"], "range": [[1, 0], [1, 0], [1, 0], [1, 0], [1, 0], [15, 13]]}, "legend": null}
      }
    },
    {
      "width": 500, "height": 326,
      "view": {"fill": "#f1f1f1", "stroke": null},
      "data": {"name": "labels"},
      "transform": [{"filter": "datum.panel === 'Type 2'"}],
      "layer": [
        {"transform": [{"filter": "datum.kind === 'title'"}],
         "mark": {"type": "text", "align": "left", "baseline": "middle", "font": "DejaVu Sans", "fontWeight": "bold", "fontSize": 26, "color": "#1a1a1a"},
         "encoding": {"x": {"datum": 64, "scale": {"domain": [0, 500], "nice": false, "zero": false}, "axis": null}, "y": {"field": "line", "type": "quantitative", "scale": {"domain": [-0.45, 9.55], "reverse": true, "nice": false, "zero": false}, "axis": null}, "text": {"field": "text"}}},
        {"transform": [{"filter": "datum.kind === 'countries'"}],
         "mark": {"type": "text", "align": "left", "baseline": "middle", "font": "Liberation Sans", "fontStyle": "italic", "fontSize": 25.5, "color": "#222222"},
         "encoding": {"x": {"datum": 64, "scale": {"domain": [0, 500], "nice": false, "zero": false}, "axis": null}, "y": {"field": "line", "type": "quantitative", "scale": {"domain": [-0.45, 9.55], "reverse": true, "nice": false, "zero": false}, "axis": null}, "text": {"field": "text"}}}
      ]
    },
    {
      "width": 626, "height": 326,
      "data": {"name": "fert"},
      "transform": [{"filter": "datum.panel === 'Type 2'"}],
      "mark": {"type": "line", "interpolate": "monotone", "clip": true, "strokeJoin": "round"},
      "encoding": {
        "x": {"field": "year", "type": "quantitative", "scale": {"domain": [1950, 2005], "nice": false, "zero": false}, "axis": {"values": [1950, 1960, 1970, 1980, 1990, 2000], "format": "d", "title": null}},
        "y": {"field": "value", "type": "quantitative", "scale": {"domain": [1, 4], "nice": false, "zero": false}, "axis": {"values": [1, 2, 3, 4], "format": ".1f", "title": null}},
        "color": {"field": "series", "type": "nominal", "scale": {"domain": ["very high", "high", "medium", "low", "very low", "Equilibrium"], "range": ["#e41e20", "#f0807a", "#0a0a0a", "#8593c6", "#2d4b9f", "#8d8d8d"]},
          "legend": {"orient": "none", "legendX": -479, "legendY": 157, "title": null, "fillColor": "#ffffff", "strokeColor": "#c6c6c6", "padding": 17, "symbolType": "stroke", "symbolSize": 4489, "symbolOffset": 5, "labelOffset": 24, "clipHeight": 34, "rowPadding": 0, "labelFont": "Liberation Sans", "labelFontSize": 18.5, "labelColor": "#222222", "labelLimit": 300}},
        "strokeWidth": {"field": "series", "type": "nominal", "scale": {"type": "ordinal", "domain": ["very high", "high", "medium", "low", "very low", "Equilibrium"], "range": [6, 2, 5.5, 2, 6, 3]},
          "legend": {"orient": "none", "legendX": -479, "legendY": 157, "title": null, "fillColor": "#ffffff", "strokeColor": "#c6c6c6", "padding": 17, "symbolType": "stroke", "symbolSize": 4489, "symbolOffset": 5, "labelOffset": 24, "clipHeight": 34, "rowPadding": 0, "labelFont": "Liberation Sans", "labelFontSize": 18.5, "labelColor": "#222222", "labelLimit": 300}},
        "strokeDash": {"field": "series", "type": "nominal", "scale": {"domain": ["very high", "high", "medium", "low", "very low", "Equilibrium"], "range": [[1, 0], [1, 0], [1, 0], [1, 0], [1, 0], [15, 13]]},
          "legend": {"orient": "none", "legendX": -479, "legendY": 157, "title": null, "fillColor": "#ffffff", "strokeColor": "#c6c6c6", "padding": 17, "symbolType": "stroke", "symbolSize": 4489, "symbolOffset": 5, "labelOffset": 24, "clipHeight": 34, "rowPadding": 0, "labelFont": "Liberation Sans", "labelFontSize": 18.5, "labelColor": "#222222", "labelLimit": 300}}
      }
    },
    {
      "width": 500, "height": 326,
      "view": {"fill": "#f1f1f1", "stroke": null},
      "data": {"name": "labels"},
      "transform": [{"filter": "datum.panel === 'Type 3'"}],
      "layer": [
        {"transform": [{"filter": "datum.kind === 'title'"}],
         "mark": {"type": "text", "align": "left", "baseline": "middle", "font": "DejaVu Sans", "fontWeight": "bold", "fontSize": 26, "color": "#1a1a1a"},
         "encoding": {"x": {"datum": 75, "scale": {"domain": [0, 500], "nice": false, "zero": false}, "axis": null}, "y": {"field": "line", "type": "quantitative", "scale": {"domain": [-0.45, 9.55], "reverse": true, "nice": false, "zero": false}, "axis": null}, "text": {"field": "text"}}},
        {"transform": [{"filter": "datum.kind === 'countries'"}],
         "mark": {"type": "text", "align": "left", "baseline": "middle", "font": "Liberation Sans", "fontStyle": "italic", "fontSize": 25.5, "color": "#222222"},
         "encoding": {"x": {"datum": 75, "scale": {"domain": [0, 500], "nice": false, "zero": false}, "axis": null}, "y": {"field": "line", "type": "quantitative", "scale": {"domain": [-0.45, 9.55], "reverse": true, "nice": false, "zero": false}, "axis": null}, "text": {"field": "text"}}}
      ]
    },
    {
      "width": 626, "height": 326,
      "data": {"name": "fert"},
      "transform": [{"filter": "datum.panel === 'Type 3'"}],
      "mark": {"type": "line", "interpolate": "monotone", "clip": true, "strokeJoin": "round"},
      "encoding": {
        "x": {"field": "year", "type": "quantitative", "scale": {"domain": [1950, 2005], "nice": false, "zero": false}, "axis": {"values": [1950, 1960, 1970, 1980, 1990, 2000], "format": "d", "title": null}},
        "y": {"field": "value", "type": "quantitative", "scale": {"domain": [1, 4], "nice": false, "zero": false}, "axis": {"values": [1, 2, 3, 4], "format": ".1f", "title": null}},
        "color": {"field": "series", "type": "nominal", "scale": {"domain": ["very high", "high", "medium", "low", "very low", "Equilibrium"], "range": ["#e41e20", "#f0807a", "#0a0a0a", "#8593c6", "#2d4b9f", "#8d8d8d"]}, "legend": null},
        "strokeWidth": {"field": "series", "type": "nominal", "scale": {"type": "ordinal", "domain": ["very high", "high", "medium", "low", "very low", "Equilibrium"], "range": [6, 2, 5.5, 2, 6, 3]}, "legend": null},
        "strokeDash": {"field": "series", "type": "nominal", "scale": {"domain": ["very high", "high", "medium", "low", "very low", "Equilibrium"], "range": [[1, 0], [1, 0], [1, 0], [1, 0], [1, 0], [15, 13]]}, "legend": null}
      }
    },
    {
      "width": 500, "height": 326,
      "view": {"fill": "#f1f1f1", "stroke": null},
      "layer": [
        {"data": {"name": "labels"},
         "transform": [{"filter": "datum.panel === 'Other'"}],
         "mark": {"type": "text", "align": "left", "baseline": "middle", "font": "DejaVu Sans", "fontWeight": "bold", "fontSize": 26, "color": "#1a1a1a"},
         "encoding": {"x": {"datum": 65, "scale": {"domain": [0, 500], "nice": false, "zero": false}, "axis": null}, "y": {"field": "line", "type": "quantitative", "scale": {"domain": [-0.45, 9.55], "reverse": true, "nice": false, "zero": false}, "axis": null}, "text": {"field": "text"}}},
        {"data": {"values": [{"frame": "top"}]},
         "mark": {"type": "rule", "color": "#6e6e6e", "strokeWidth": 1.5},
         "encoding": {"x": {"datum": 10}, "x2": {"datum": 1257}, "y": {"datum": -39.96}}},
        {"data": {"values": [{"frame": "left"}]},
         "mark": {"type": "rule", "color": "#6e6e6e", "strokeWidth": 1.5},
         "encoding": {"x": {"datum": 10}, "y": {"datum": -39.96}, "y2": {"datum": 11.39}}},
        {"data": {"values": [{"frame": "right"}]},
         "mark": {"type": "rule", "color": "#9a9a9a", "strokeWidth": 1.5},
         "encoding": {"x": {"datum": 1256}, "y": {"datum": -39.96}, "y2": {"datum": 11.39}}},
        {"data": {"values": [{"frame": "separator"}]},
         "mark": {"type": "rule", "color": "#8a8a8a", "strokeWidth": 2},
         "encoding": {"x": {"datum": 10}, "x2": {"datum": 1198}, "y": {"datum": -1.52}}},
        {"data": {"values": [{"credit": "UMS RIATE,, 2008"}]},
         "mark": {"type": "text", "align": "center", "baseline": "middle", "angle": 270, "font": "Liberation Sans", "fontStyle": "italic", "fontSize": 21.5, "color": "#9a9a9a"},
         "encoding": {"x": {"datum": 1232}, "y": {"datum": 8.02}, "text": {"field": "credit"}}}
      ]
    },
    {
      "width": 626, "height": 326,
      "data": {"name": "fert"},
      "transform": [{"filter": "datum.panel === 'Other'"}],
      "mark": {"type": "line", "interpolate": "monotone", "clip": true, "strokeJoin": "round"},
      "encoding": {
        "x": {"field": "year", "type": "quantitative", "scale": {"domain": [1950, 2005], "nice": false, "zero": false}, "axis": {"values": [1950, 1960, 1970, 1980, 1990, 2000], "format": "d", "title": null}},
        "y": {"field": "value", "type": "quantitative", "scale": {"domain": [1, 4], "nice": false, "zero": false}, "axis": {"values": [1, 2, 3, 4], "format": ".1f", "title": null}},
        "color": {"field": "series", "type": "nominal", "scale": {"domain": ["Ireland", "Cyprus", "Malta", "Equilibrium"], "range": ["#b010bf", "#f5901f", "#1cbb5c", "#8d8d8d"]},
          "legend": {"orient": "none", "legendX": -457, "legendY": 61, "title": null, "padding": 0, "symbolType": "stroke", "symbolSize": 4489, "symbolOffset": 0, "labelOffset": 24, "clipHeight": 67, "rowPadding": 0, "labelFont": "Liberation Sans", "labelFontSize": 18.5, "labelColor": "#222222", "labelLimit": 300}},
        "strokeWidth": {"field": "series", "type": "nominal", "scale": {"type": "ordinal", "domain": ["Ireland", "Cyprus", "Malta", "Equilibrium"], "range": [5, 5, 5, 3]},
          "legend": {"orient": "none", "legendX": -457, "legendY": 61, "title": null, "padding": 0, "symbolType": "stroke", "symbolSize": 4489, "symbolOffset": 0, "labelOffset": 24, "clipHeight": 67, "rowPadding": 0, "labelFont": "Liberation Sans", "labelFontSize": 18.5, "labelColor": "#222222", "labelLimit": 300}},
        "strokeDash": {"field": "series", "type": "nominal", "scale": {"domain": ["Ireland", "Cyprus", "Malta", "Equilibrium"], "range": [[1, 0], [1, 0], [1, 0], [15, 13]]},
          "legend": {"orient": "none", "legendX": -457, "legendY": 61, "title": null, "padding": 0, "symbolType": "stroke", "symbolSize": 4489, "symbolOffset": 0, "labelOffset": 24, "clipHeight": 67, "rowPadding": 0, "labelFont": "Liberation Sans", "labelFontSize": 18.5, "labelColor": "#222222", "labelLimit": 300}}
      }
    }
  ],
  "config": {
    "font": "Liberation Sans",
    "view": {"fill": "#fefbe8", "stroke": "#8c8c8c", "strokeWidth": 2.5},
    "axis": {"labelFont": "Liberation Sans", "labelFontSize": 17, "labelColor": "#333333", "labelFlush": false, "tickColor": "#b4b4a6", "tickSize": 5, "domainColor": "#7d7d7d", "domainWidth": 2.5, "gridColor": "#d9d7c6", "gridWidth": 1},
    "axisX": {"labelPadding": 7},
    "axisY": {"labelPadding": 7}
  }
}
